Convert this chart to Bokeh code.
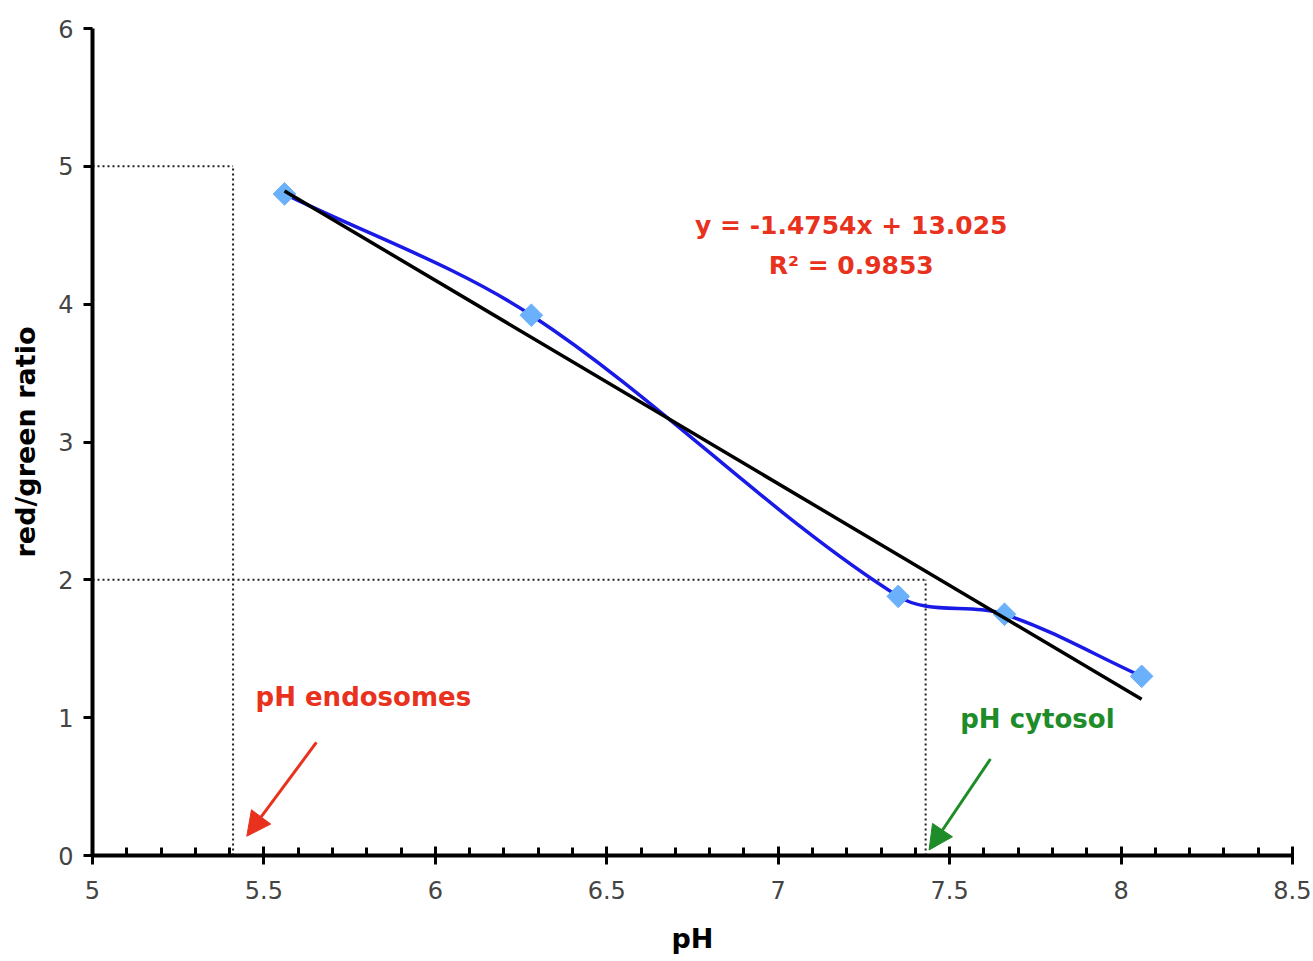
import numpy as np
from bokeh.plotting import figure
from bokeh.models import (FixedTicker, CustomJSTickFormatter, Arrow, NormalHead,
                          ColumnDataSource, Range1d)
from bokeh.core.properties import value
from bokeh.embed import file_html
from bokeh.resources import INLINE

# ---------------- data ----------------
ph_values = [5.56, 6.28, 7.35, 7.66, 8.06]
ratio_values = [4.80, 3.92, 1.88, 1.75, 1.30]

trend_slope = -1.4754
trend_intercept = 13.025
equation_lines = ["y = -1.4754x + 13.025", "R\u00b2 = 0.9853"]

# dotted read-off guides: (pH, ratio)
guide_ph = [5.41, 7.43]
guide_ratio = [5.0, 2.0]

annot_texts = ["pH endosomes", "pH cytosol"]
annot_colors = ["#E8321E", "#1E8C28"]

x_ticks = [5, 5.5, 6, 6.5, 7, 7.5, 8, 8.5]
x_tick_labels = ["5", "5.5", "6", "6.5", "7", "7.5", "8", "8.5"]
y_ticks = [0, 1, 2, 3, 4, 5, 6]

x_label = "pH"
y_label = "red/green ratio"

# ---------------- figure ----------------
FRAME_W, FRAME_H = 1200, 827
p = figure(width=1311, height=961, output_backend="svg", toolbar_location=None,
           x_range=Range1d(5, 8.5), y_range=Range1d(0, 6),
           min_border_left=92, min_border_right=19, min_border_top=28,
           min_border_bottom=106)
p.outline_line_color = None
p.grid.grid_line_color = None
p.background_fill_color = "white"
p.border_fill_color = "white"

minor = [round(v, 1) for v in np.arange(5.0, 8.5001, 0.1) if round(v * 10) % 5 != 0]
p.xaxis.ticker = FixedTicker(ticks=x_ticks, minor_ticks=minor)
p.xaxis.formatter = CustomJSTickFormatter(
    args=dict(tvals=x_ticks, tlabels=x_tick_labels),
    code="const i = tvals.findIndex(t => Math.abs(t - tick) < 1e-9); return i >= 0 ? tlabels[i] : '';")
p.yaxis.ticker = FixedTicker(ticks=y_ticks)

for ax in (p.xaxis[0], p.yaxis[0]):
    ax.axis_line_width = 4
    ax.axis_line_color = "black"
    ax.major_tick_line_width = 3
    ax.major_tick_line_color = "black"
    ax.major_label_text_font = "DejaVu Sans"
    ax.major_label_text_font_size = "24px"
    ax.major_label_text_color = "#444444"
    ax.axis_label_text_font = "DejaVu Sans"
    ax.axis_label_text_font_style = "bold"
    ax.axis_label_text_font_size = "27px"
    ax.axis_label_text_color = "black"

p.xaxis.major_tick_in = 9
p.xaxis.major_tick_out = 9
p.xaxis.minor_tick_in = 8
p.xaxis.minor_tick_out = 0
p.xaxis.minor_tick_line_width = 3
p.xaxis.minor_tick_line_color = "black"
p.xaxis.major_label_standoff = 16
p.xaxis.axis_label_standoff = 21
p.xaxis.axis_label = x_label

p.yaxis.major_tick_in = 0
p.yaxis.major_tick_out = 9
p.yaxis.minor_tick_line_color = None
p.yaxis.major_label_standoff = 10
p.yaxis.axis_label_standoff = 14
p.yaxis.axis_label = y_label

# dotted guides
for gx, gy in zip(guide_ph, guide_ratio):
    p.line([5, gx], [gy, gy], line_color="#222222", line_width=2, line_dash="2 3")
    p.line([gx, gx], [0, gy], line_color="#222222", line_width=2, line_dash="2 3")

# smoothed series (Excel-style smoothing drawn with bezier segments;
# tangent arms scaled by neighbouring segment lengths in screen space)
sx = FRAME_W / 3.5
sy = FRAME_H / 6.0
xs = np.array(ph_values)
ys = np.array(ratio_values)
n = len(xs)


def seglen(i, j):
    return float(np.hypot((xs[j] - xs[i]) * sx, (ys[j] - ys[i]) * sy))


x0s, y0s, x1s, y1s, cx0, cy0, cx1, cy1 = [], [], [], [], [], [], [], []
for i in range(n - 1):
    a = max(i - 1, 0)
    d = min(i + 2, n - 1)
    d01 = seglen(a, i)
    d12 = seglen(i, i + 1)
    d23 = seglen(i + 1, d)
    f1 = d12 / (d01 + d12) / 3.0 if a != i else 1.0 / 3.0
    f2 = d12 / (d12 + d23) / 3.0 if d != i + 1 else 1.0 / 3.0
    if a == i:
        t1x, t1y = xs[i + 1] - xs[i], ys[i + 1] - ys[i]
    else:
        t1x, t1y = xs[i + 1] - xs[a], ys[i + 1] - ys[a]
    if d == i + 1:
        t2x, t2y = xs[i + 1] - xs[i], ys[i + 1] - ys[i]
    else:
        t2x, t2y = xs[d] - xs[i], ys[d] - ys[i]
    x0s.append(xs[i]); y0s.append(ys[i])
    x1s.append(xs[i + 1]); y1s.append(ys[i + 1])
    cx0.append(xs[i] + t1x * f1); cy0.append(ys[i] + t1y * f1)
    cx1.append(xs[i + 1] - t2x * f2); cy1.append(ys[i + 1] - t2y * f2)
p.bezier(x0=x0s, y0=y0s, x1=x1s, y1=y1s, cx0=cx0, cy0=cy0, cx1=cx1, cy1=cy1,
         line_color="#1A1AE6", line_width=3.5)

p.scatter(ph_values, ratio_values, marker="square", angle=np.pi / 4, size=16,
          fill_color="#6AB0FA", line_color="#6AB0FA")

# trendline
tx = [min(ph_values), max(ph_values)]
ty = [trend_slope * v + trend_intercept for v in tx]
p.line(tx, ty, line_color="black", line_width=3.5)

# equation text
eq_src = ColumnDataSource(dict(x=[7.213, 7.213], y=[4.57, 4.28], t=equation_lines))
p.text(x="x", y="y", text="t", source=eq_src, text_align="center", text_baseline="middle",
       text_color="#E8321E", text_font=value("DejaVu Sans"), text_font_style="bold",
       text_font_size="25px")

# annotation labels
an_src = ColumnDataSource(dict(x=[5.79, 7.756], y=[1.15, 0.99], t=annot_texts, c=annot_colors))
p.text(x="x", y="y", text="t", text_color="c", source=an_src, text_align="center",
       text_baseline="middle", text_font=value("DejaVu Sans"), text_font_style="bold",
       text_font_size="26px")

# arrows
arrow_specs = [((5.653, 0.82), (5.45, 0.14), annot_colors[0]),
               ((7.619, 0.70), (7.44, 0.04), annot_colors[1])]
for (xs0, ys0), (xe, ye), col in arrow_specs:
    p.add_layout(Arrow(x_start=xs0, y_start=ys0, x_end=xe, y_end=ye,
                       line_color=col, line_width=3,
                       end=NormalHead(size=24, fill_color=col, line_color=col)))

open("out.html", "w").write(file_html(p, INLINE))
